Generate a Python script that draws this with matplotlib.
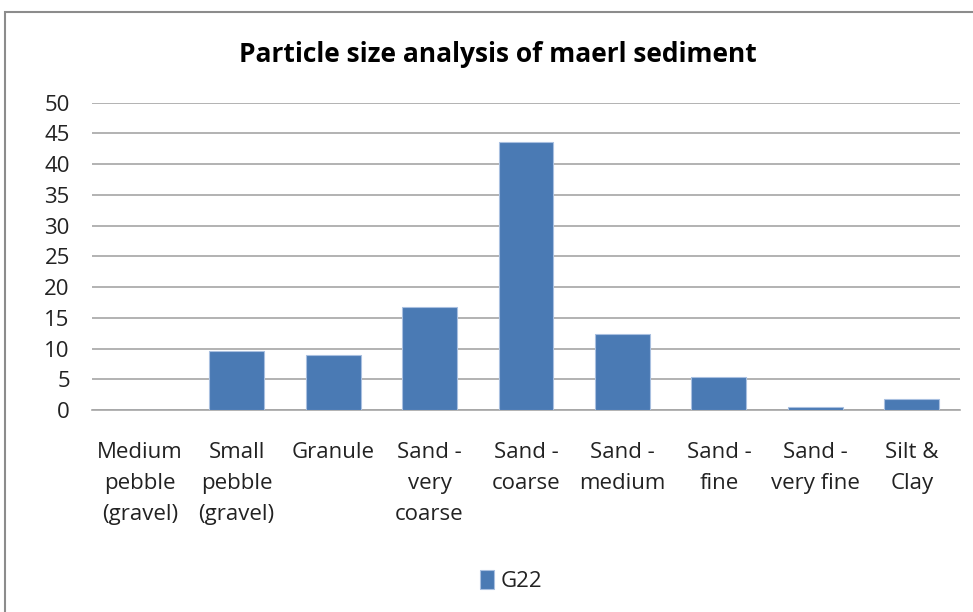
import matplotlib.pyplot as plt
from matplotlib.patches import Rectangle

plt.rcParams['font.family'] = ['Open Sans', 'DejaVu Sans']

categories = ['Medium\npebble\n(gravel)', 'Small\npebble\n(gravel)', 'Granule',
              'Sand -\nvery\ncoarse', 'Sand -\ncoarse', 'Sand -\nmedium',
              'Sand -\nfine', 'Sand -\nvery fine', 'Silt &\nClay']
g22 = [0, 9.65, 8.9, 16.7, 43.65, 12.3, 5.45, 0.5, 1.75]
yticks = [0, 5, 10, 15, 20, 25, 30, 35, 40, 45, 50]

fig = plt.figure(figsize=(9.73, 6.12), dpi=100)
# chart area frame
fig.patches.append(Rectangle((5 / 973, -0.1), 1.2, (612 - 12) / 612 + 0.1,
                             transform=fig.transFigure, fill=False,
                             edgecolor='#8c8c8c', linewidth=1.5))

ax = fig.add_axes([92 / 973, 202 / 612, 868 / 973, 307.3 / 612])
x = range(len(categories))
ax.bar(x, g22, width=0.57, color='#4a7ab4', edgecolor='#a9c0e0',
       linewidth=0.8, label='G22', zorder=3)

ax.set_xlim(-0.5, len(categories) - 0.5)
ax.set_ylim(0, 50)
ax.set_yticks(yticks)
ax.set_xticks(list(x))
ax.set_xticklabels(categories, fontsize=16, linespacing=1.62, color='#222222')
ax.tick_params(axis='y', labelsize=16, length=0, pad=16, labelcolor='#222222')
ax.tick_params(axis='x', length=0, pad=23)
for lbl in ax.get_xticklabels():
    lbl.set_verticalalignment('top')

ax.grid(axis='y', color='#a6a6a6', linewidth=1.2, zorder=0)
for s in ['top', 'right', 'left']:
    ax.spines[s].set_visible(False)
ax.spines['bottom'].set_color('#a6a6a6')
ax.spines['bottom'].set_linewidth(1.2)

fig.text(498 / 973, 1 - 54 / 612, 'Particle size analysis of maerl sediment',
         ha='center', va='center', fontsize=19, fontweight='bold')

fig.legend(loc='center', bbox_to_anchor=(511 / 973, 1 - 581 / 612),
           frameon=False, fontsize=16, handlelength=0.6, handleheight=0.9,
           handletextpad=0.3, labelcolor='#222222')

plt.savefig('out.png', dpi=100)
